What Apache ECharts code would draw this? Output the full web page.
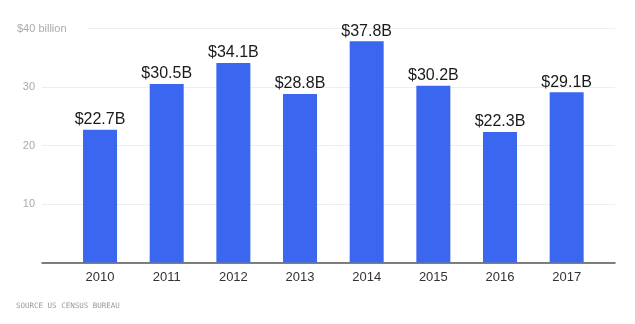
<!DOCTYPE html>
<html>
<head>
<meta charset="utf-8">
<script src="https://cdn.jsdelivr.net/npm/echarts@6/dist/echarts.min.js"></script>
<style>html,body{margin:0;padding:0;background:#fff;}#c{width:635px;height:324px;}</style>
</head>
<body>
<div id="c"></div>
<script>
const years = ['2010','2011','2012','2013','2014','2015','2016','2017'];
const values = [22.7, 30.5, 34.1, 28.8, 37.8, 30.2, 22.3, 29.1];
const yTicks = [0, 10, 20, 30, 40];
const topLabel = '$40 billion';
const sourceText = 'SOURCE US CENSUS BUREAU';

const chart = echarts.init(document.getElementById('c'), null, {renderer: 'canvas'});
const font = '"Liberation Sans", Arial, sans-serif';
chart.setOption({
  animation: false,
  backgroundColor: '#fff',
  grid: [
    {left: 42, right: 20, top: 28.5, bottom: 61.5},
    {left: 66.7, right: 35, top: 28.5, bottom: 61.5}
  ],
  xAxis: [
    {gridIndex: 0, type: 'category', data: [''],
     axisLine: {show: true, lineStyle: {color: '#555', width: 1.5}},
     axisTick: {show: false}, axisLabel: {show: false}, splitLine: {show: false}},
    {gridIndex: 1, type: 'category', data: years,
     axisLine: {show: false}, axisTick: {show: false},
     axisLabel: {color: '#333', fontSize: 13, fontFamily: font, margin: 8}}
  ],
  yAxis: [
    {gridIndex: 0, type: 'value', min: yTicks[0], max: yTicks[yTicks.length-1], interval: 10,
     axisLine: {show: false}, axisTick: {show: false},
     axisLabel: {color: '#aaa', fontSize: 11, fontFamily: font, margin: 7,
       formatter: v => (v === 0 || v === 40) ? '' : String(v)},
     splitLine: {show: true, lineStyle: {color: '#eee', width: 1}}},
    {gridIndex: 1, type: 'value', min: yTicks[0], max: yTicks[yTicks.length-1], interval: 10,
     show: false, splitLine: {show: false}}
  ],
  series: [{
    type: 'bar', xAxisIndex: 1, yAxisIndex: 1, data: values,
    barWidth: 34,
    itemStyle: {color: '#3b66f0'},
    label: {show: true, position: 'top', distance: 2, color: '#1a1a1a',
      fontSize: 16, fontFamily: font, formatter: p => '$' + p.value + 'B'}
  }],
  graphic: [
    {type: 'text', left: 17, top: 22, z: 100,
     style: {text: topLabel, fill: '#aaa', fontSize: 11, fontFamily: font,
       backgroundColor: '#fff', padding: [1, 21, 1, 0]}},
    {type: 'text', left: 16, top: 302, z: 100,
     style: {text: sourceText, fill: '#999', fontSize: 7.5, fontFamily: '"DejaVu Sans Mono", monospace'}}
  ]
});
</script>
</body>
</html>
